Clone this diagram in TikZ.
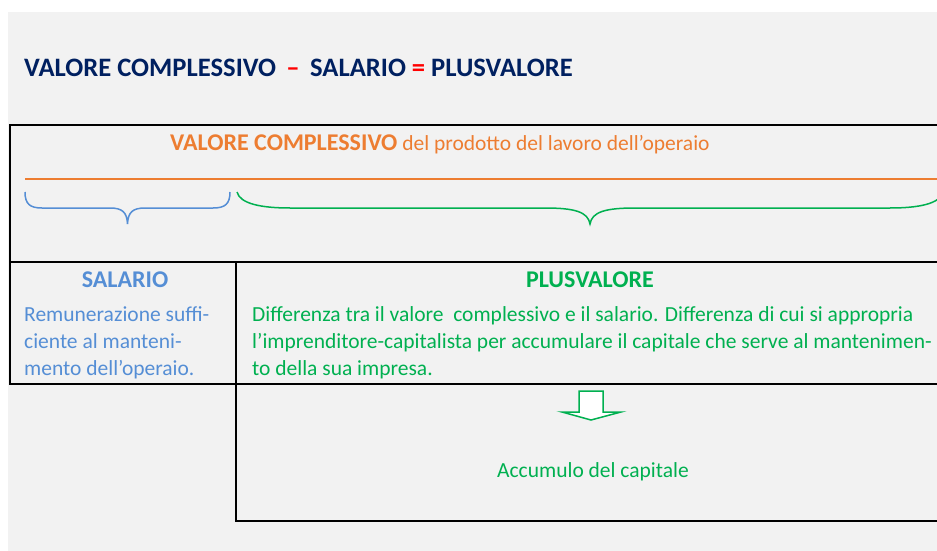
\documentclass[tikz,border=0pt]{standalone}
\usepackage{fontspec}
\setmainfont{Carlito}

\definecolor{sfondo}{HTML}{F2F2F2}
\definecolor{blunotte}{HTML}{002060}
\definecolor{rosso}{HTML}{FF0000}
\definecolor{arancio}{HTML}{ED7D31}
\definecolor{azzurro}{HTML}{558ED5}
\definecolor{verde}{HTML}{00B050}

\tikzstyle{bordo} = [line width=2pt, draw=black]
\tikzstyle{graffa} = [line width=1.5pt]
\tikzstyle{titolo} = [
        anchor=base west,
        inner sep=0pt,
        text=blunotte,
        font=\fontsize{26.6}{30}\selectfont\bfseries
    ]
\tikzstyle{voce} = [
        anchor=base,
        inner sep=0pt,
        font=\fontsize{24}{28}\selectfont\bfseries
    ]
\tikzstyle{testo} = [
        anchor=base west,
        inner sep=0pt,
        align=left,
        font=\fontsize{21.5}{27}\selectfont
    ]

\begin{document}
\begin{tikzpicture}[x=1pt, y=-1pt]
        \useasboundingbox (0,0) rectangle (937,551);
        \clip (0,0) rectangle (937,551);
        \fill [sfondo] (8,12) rectangle (937,551);

        \node [titolo] (formula) at (24,77) {VALORE COMPLESSIVO \,\textcolor{rosso}{–}\, SALARIO \textcolor{rosso}{=} PLUSVALORE};

        % riquadro superiore
        \draw [bordo] (9,124.5) -- (937,124.5);
        \draw [bordo] (10,124) -- (10,384.5);
        \draw [bordo] (9,262) -- (937,262);
        \draw [bordo] (9,383.5) -- (937,383.5);
        \draw [bordo] (236,262) -- (236,521.5);
        \draw [bordo] (235,520.5) -- (937,520.5);

        \node [testo, text=arancio] (valore) at (170,150) {{\fontsize{24}{28}\selectfont\bfseries VALORE COMPLESSIVO} del prodotto del lavoro dell’operaio};
        \draw [line width=1.5pt, arancio] (25,179) -- (937,179);

        \draw [graffa, azzurro] (25,192) .. controls (25,204) and (30,208) .. (42,208) -- (110,208)
                .. controls (122,208) and (127,212) .. (127.5,224)
                .. controls (128,212) and (133,208) .. (145,208) -- (213,208)
                .. controls (225,208) and (230,204) .. (230,192);
        \draw [graffa, verde] (237,192) .. controls (240,204) and (262,208) .. (290,208) -- (545,208)
                .. controls (575,208) and (588,212) .. (590,224)
                .. controls (592,212) and (605,208) .. (635,208) -- (890,208)
                .. controls (918,208) and (940,204) .. (943,192);

        % salario e plusvalore (base = ultima riga)
        \node [voce, text=azzurro] (salario) at (125,287) {SALARIO};
        \node [voce, text=verde] (plusvalore) at (590,287) {PLUSVALORE};
        \node [testo, text=azzurro] (salariotesto) at (24,375) {Remunerazione suffi-\\ciente al manteni-\\mento dell’operaio.};
        \node [testo, text=verde] (plustesto) at (252,375) {Differenza tra il valore \ complessivo e il salario. Differenza di cui si appropria\\l’imprenditore-capitalista per accumulare il capitale che serve al mantenimen-\\to della sua impresa.};

        % freccia e accumulo
        \draw [line width=1.5pt, verde, fill=white, line join=miter]
                (579,391) -- (603,391) -- (603,412) -- (621,412) -- (591,420) -- (562,412) -- (579,412) -- cycle;
        \node [testo, anchor=base, text=verde] (accumulo) at (593,477) {Accumulo del capitale};
    \end{tikzpicture}
\end{document}
